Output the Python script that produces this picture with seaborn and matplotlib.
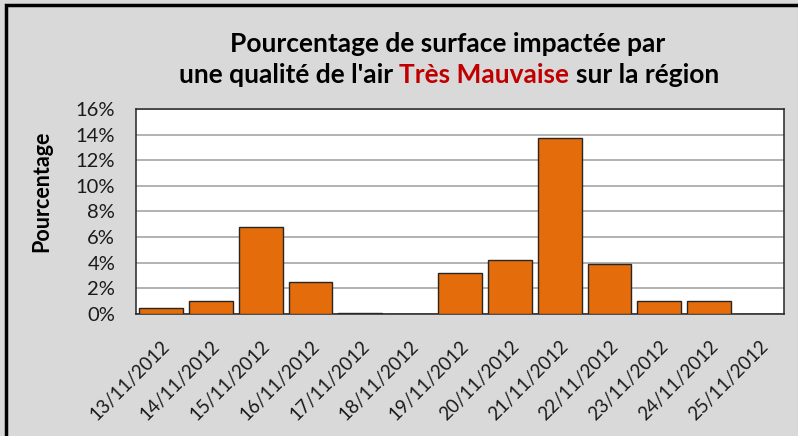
import matplotlib
matplotlib.use("Agg")
import matplotlib.pyplot as plt
import seaborn as sns
import pandas as pd
from matplotlib.ticker import PercentFormatter, FixedLocator
from matplotlib.patches import Rectangle

# ---------- data ----------
dates = ["13/11/2012", "14/11/2012", "15/11/2012", "16/11/2012", "17/11/2012",
         "18/11/2012", "19/11/2012", "20/11/2012", "21/11/2012", "22/11/2012",
         "23/11/2012", "24/11/2012", "25/11/2012"]
pourcentage = [0.5, 1.0, 6.8, 2.5, 0.1, 0.0, 3.2, 4.25, 13.7, 3.9, 1.0, 1.0, 0.0]
y_ticks = [0, 2, 4, 6, 8, 10, 12, 14, 16]

df = pd.DataFrame({"date": dates, "pct": pourcentage})

# ---------- style ----------
sns.set_style("white")
plt.rcParams["font.family"] = ["Lato", "DejaVu Sans"]

BG = "#d9d9d9"
ORANGE = "#e46c0a"
RED = "#c00000"
INK = "#1a1a1a"

fig = plt.figure(figsize=(7.98, 4.36), dpi=100, facecolor=BG)
ax = fig.add_axes([136 / 798, 1 - 314 / 436, 648 / 798, 205 / 436])
ax.set_facecolor("white")

sns.barplot(data=df, x="date", y="pct", color=ORANGE, width=0.88,
            edgecolor="#262626", linewidth=1.0, saturation=1, ax=ax, zorder=3)

ax.set_ylim(0, 16)
ax.set_xlim(-0.5, len(dates) - 0.5)
ax.yaxis.set_major_locator(FixedLocator(y_ticks))
ax.yaxis.set_major_formatter(PercentFormatter(decimals=0))
ax.grid(axis="y", color="#a6a6a6", linewidth=1.2, zorder=0)
ax.set_axisbelow(True)

# category boundary ticks on x, labels at centers
ax.set_xticks([i - 0.5 for i in range(len(dates) + 1)], minor=True)
ax.tick_params(axis="x", which="minor", length=7, width=1, color="#404040", direction="out")
ax.tick_params(axis="x", which="major", length=0, pad=17, labelcolor=INK)
ax.set_xticklabels(dates, rotation=45, ha="right", rotation_mode="anchor", fontsize=13.5)
ax.tick_params(axis="y", length=6, width=1, color="#404040", direction="out", pad=9,
               labelsize=14.5, labelcolor=INK)
ax.set_xlabel("")
ax.set_ylabel("")
fig.text(42 / 798, 1 - 191 / 436, "Pourcentage", rotation=90, ha="center", va="center",
         fontsize=15.5, fontweight="bold", color="black")

for side in ["left", "top", "right", "bottom"]:
    ax.spines[side].set_visible(True)
    ax.spines[side].set_color("#262626")
    ax.spines[side].set_linewidth(1.1)

# ---------- title (two lines, one word in red) ----------
title_kw = dict(fontsize=19, fontweight="bold", va="center")
fig.text(448 / 798, 1 - 44 / 436, "Pourcentage de surface impactée par", ha="center",
         color="black", **title_kw)

parts = [("une qualité de l'air", "black"), ("Très Mauvaise", RED), ("sur la région", "black")]
renderer = fig.canvas.get_renderer()
texts = [fig.text(0, 1 - 75 / 436, s, color=c, ha="left", **title_kw) for s, c in parts]
widths = [t.get_window_extent(renderer).width for t in texts]
probe1 = fig.text(0, 0, "ab", **title_kw)
probe2 = fig.text(0, 0, "a b", **title_kw)
space = probe2.get_window_extent(renderer).width - probe1.get_window_extent(renderer).width
probe1.remove()
probe2.remove()
total = sum(widths) + space * (len(parts) - 1)
x = 449 - total / 2
for t, w in zip(texts, widths):
    t.set_x(x / 798)
    x += w + space

# outer frame (top and left edges visible)
fig.patches.append(Rectangle((6 / 798, -0.1), 1.2, 1 - 5 / 436 + 0.1, transform=fig.transFigure,
                             fill=False, edgecolor="black", linewidth=2.5, zorder=10))

fig.savefig("out.png", dpi=100, facecolor=BG)
